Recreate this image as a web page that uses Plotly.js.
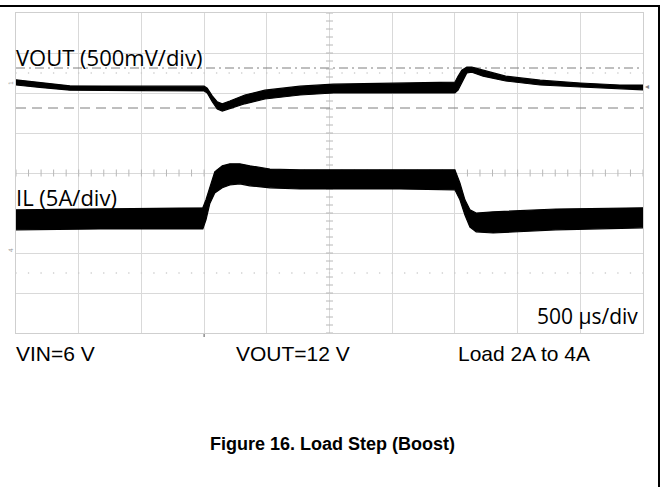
<!DOCTYPE html>
<html>
<head>
<meta charset="utf-8">
<script src="https://cdn.plot.ly/plotly-3.0.1.min.js"></script>
<style>html,body{margin:0;padding:0;background:#fff;}#chart{width:666px;height:487px;}</style>
</head>
<body>
<div id="chart"></div>
<script>
// Time axis in scope divisions (500 us/div), vertical axis in scope divisions.
// VOUT trace envelope (upper / lower edge of the ripple band)
const voutT     = [0, 0.38, 0.86, 1.98, 3.0, 3.05, 3.13, 3.21, 3.29, 3.41, 3.65, 3.97, 4.53, 5.06, 7.0, 7.05, 7.11, 7.19, 7.27, 7.45, 7.81, 8.36, 9.0, 9.63, 10.0];
const voutUpper = [6.33, 6.26, 6.18, 6.17, 6.17, 6.12, 5.93, 5.78, 5.73, 5.8, 5.95, 6.07, 6.17, 6.22, 6.27, 6.42, 6.57, 6.65, 6.65, 6.57, 6.42, 6.32, 6.25, 6.2, 6.2];
const voutLower = [6.2, 6.14, 6.07, 6.06, 6.05, 6.0, 5.78, 5.6, 5.55, 5.6, 5.73, 5.85, 5.95, 6.0, 6.0, 6.07, 6.27, 6.5, 6.52, 6.42, 6.3, 6.2, 6.15, 6.1, 6.08];
// IL trace envelope
const ilT     = [0, 1.34, 2.98, 3.03, 3.09, 3.17, 3.29, 3.41, 3.57, 3.73, 4.05, 4.53, 6.12, 7.0, 7.08, 7.16, 7.24, 7.34, 7.61, 7.98, 8.61, 10.0];
const ilUpper = [3.08, 3.1, 3.13, 3.33, 3.65, 4.03, 4.18, 4.23, 4.23, 4.18, 4.1, 4.08, 4.08, 4.08, 3.75, 3.33, 3.08, 3.0, 3.03, 3.05, 3.1, 3.13];
const ilLower = [2.58, 2.6, 2.6, 2.83, 3.23, 3.5, 3.63, 3.7, 3.73, 3.68, 3.63, 3.6, 3.6, 3.58, 3.33, 2.95, 2.65, 2.53, 2.5, 2.53, 2.58, 2.63];
// Cursor levels (divisions)
const cursorDashDot = 6.625;
const cursorDashed  = 5.625;
// Text labels
const labelVout = "VOUT (500mV/div)";
const labelIL   = "IL (5A/div)";
const labelTime = "500 µs/div";
const condTexts = ["VIN=6 V", "VOUT=12 V", "Load 2A to 4A"];
const figTitle  = "Figure 16. Load Step (Boost)";

function band(t, up, lo) {
  return {x: t.concat(t.slice().reverse()), y: up.concat(lo.slice().reverse())};
}

const L = 16, R = 643, T = 13, B = 333;
const px2x = p => (p - L) / (R - L);
const py2y = p => (B - p) / (B - T);

const traces = [];
// graticule minor ticks on center lines
const tickX = [], tickY = [];
for (let i = 0; i <= 50; i++) { tickX.push(i * 0.2); }
for (let i = 0; i <= 40; i++) { tickY.push(i * 0.2); }
traces.push({x: tickX, y: tickX.map(() => 4), mode: 'markers', marker: {symbol: 'line-ns', size: 5, line: {color: '#b8b8b8', width: 1}}, hoverinfo: 'skip'});
traces.push({x: tickY.map(() => 5), y: tickY, mode: 'markers', marker: {symbol: 'line-ew', size: 5, line: {color: '#b8b8b8', width: 1}}, hoverinfo: 'skip'});
// dotted marker rows at +/-2.5 div
traces.push({x: tickX, y: tickX.map(() => 6.5), mode: 'markers', marker: {symbol: 'circle', size: 1.6, color: '#c8c8c8'}, hoverinfo: 'skip'});
traces.push({x: tickX, y: tickX.map(() => 1.5), mode: 'markers', marker: {symbol: 'circle', size: 1.6, color: '#c8c8c8'}, hoverinfo: 'skip'});
// cursors
traces.push({x: [0, 10], y: [cursorDashDot, cursorDashDot], mode: 'lines', line: {color: '#7f7f7f', width: 1, dash: '9px,4px,2px,4px'}, hoverinfo: 'skip'});
traces.push({x: [0, 10], y: [cursorDashed, cursorDashed], mode: 'lines', line: {color: '#7f7f7f', width: 1, dash: '10px,6px'}, hoverinfo: 'skip'});
// signal bands
const vb = band(voutT, voutUpper, voutLower);
traces.push({x: vb.x, y: vb.y, mode: 'lines', fill: 'toself', fillcolor: '#000', line: {color: '#000', width: 1.2}, hoverinfo: 'skip'});
const ib = band(ilT, ilUpper, ilLower);
traces.push({x: ib.x, y: ib.y, mode: 'lines', fill: 'toself', fillcolor: '#000', line: {color: '#000', width: 1.2}, hoverinfo: 'skip'});

const annotations = [
  {text: labelVout, x: px2x(15), y: py2y(57), xanchor: 'left', yanchor: 'middle', font: {family: 'Open Sans', size: 22, color: '#000'}},
  {text: labelIL, x: px2x(15), y: py2y(197), xanchor: 'left', yanchor: 'middle', font: {family: 'Open Sans', size: 22, color: '#000'}},
  {text: labelTime, x: px2x(639), y: py2y(316), xanchor: 'right', yanchor: 'middle', font: {family: 'Open Sans', size: 21, color: '#000'}},
  {text: condTexts[0], x: px2x(15), y: py2y(353), xanchor: 'left', yanchor: 'middle', font: {family: 'Liberation Sans', size: 21, color: '#000'}},
  {text: condTexts[1], x: px2x(235), y: py2y(353), xanchor: 'left', yanchor: 'middle', font: {family: 'Liberation Sans', size: 21, color: '#000'}},
  {text: condTexts[2], x: px2x(457), y: py2y(353), xanchor: 'left', yanchor: 'middle', font: {family: 'Liberation Sans', size: 21, color: '#000'}},
  {text: '<b>' + figTitle + '</b>', x: px2x(332), y: py2y(444), xanchor: 'center', yanchor: 'middle', font: {family: 'Liberation Sans', size: 18, color: '#000'}},
  {text: '1', x: px2x(10), y: py2y(83), xanchor: 'center', yanchor: 'middle', textangle: -90, font: {family: 'DejaVu Sans', size: 6, color: '#999'}},
  {text: '4', x: px2x(10), y: py2y(250), xanchor: 'center', yanchor: 'middle', textangle: -90, font: {family: 'DejaVu Sans', size: 6, color: '#999'}},
  {text: '◂', x: px2x(647), y: py2y(87), xanchor: 'center', yanchor: 'middle', font: {family: 'DejaVu Sans', size: 8, color: '#888'}}
].map(a => Object.assign({xref: 'paper', yref: 'paper', showarrow: false, borderpad: 0}, a));

const shapes = [
  {type: 'line', xref: 'paper', yref: 'paper', x0: px2x(0), x1: px2x(660), y0: py2y(6), y1: py2y(6), line: {color: '#000', width: 2}},
  {type: 'line', xref: 'paper', yref: 'paper', x0: px2x(659), x1: px2x(659), y0: py2y(6), y1: py2y(487), line: {color: '#000', width: 2}},
  {type: 'line', xref: 'x', yref: 'paper', x0: 3, x1: 3, y0: py2y(334), y1: py2y(337), line: {color: '#555', width: 1}}
];

const layout = {
  width: 666, height: 487,
  margin: {l: L, r: 666 - R, t: T, b: 487 - B, pad: 0},
  paper_bgcolor: '#fff', plot_bgcolor: '#fff',
  showlegend: false,
  xaxis: {range: [0, 10], dtick: 1, showgrid: true, gridcolor: '#d9d9d9', gridwidth: 1, zeroline: false, showticklabels: false, ticks: '', showline: true, linecolor: '#cfcfcf', mirror: true, fixedrange: true},
  yaxis: {range: [0, 8], dtick: 1, showgrid: true, gridcolor: '#d9d9d9', gridwidth: 1, zeroline: false, showticklabels: false, ticks: '', showline: true, linecolor: '#cfcfcf', mirror: true, fixedrange: true},
  annotations: annotations,
  shapes: shapes
};

Plotly.newPlot('chart', traces, layout, {displayModeBar: false, staticPlot: true});
</script>
</body>
</html>
